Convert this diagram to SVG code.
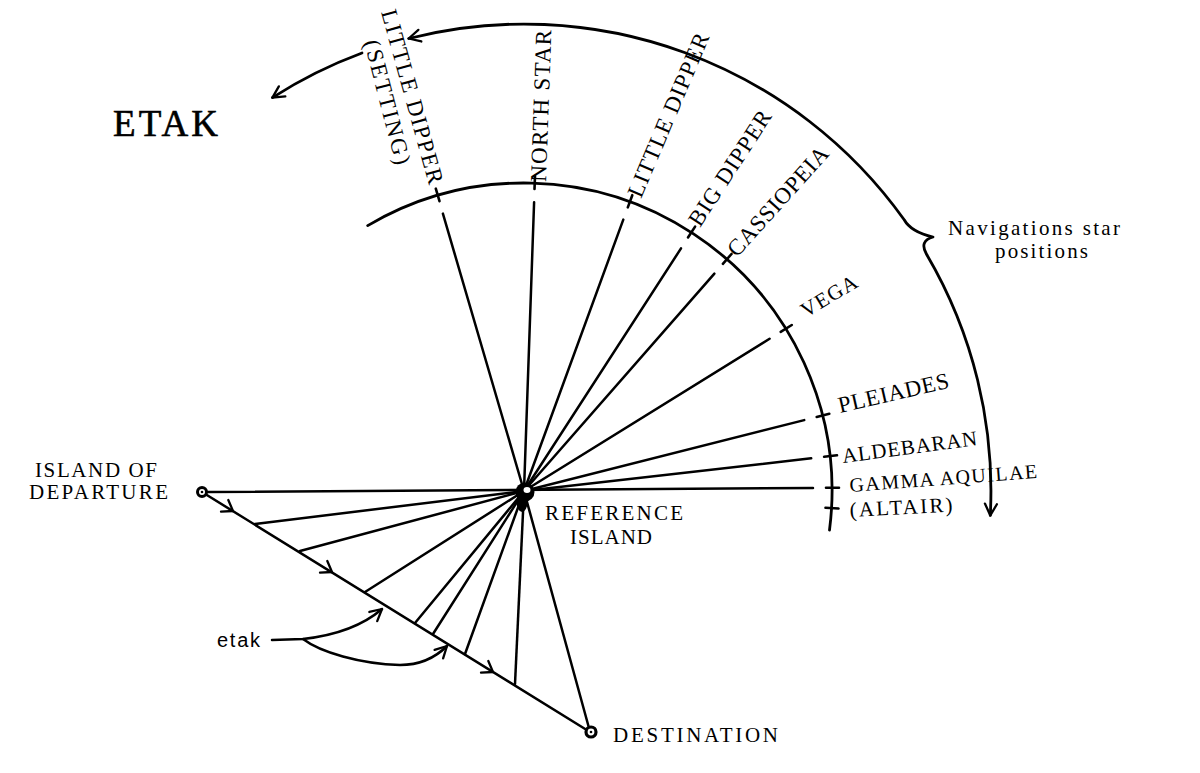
<svg xmlns="http://www.w3.org/2000/svg" width="1200" height="773" viewBox="0 0 1200 773">
<style>
.ln{stroke:#000;stroke-width:2.5;fill:none;stroke-linecap:round;stroke-linejoin:round}
.arc{stroke:#000;stroke-width:2.8;fill:none;stroke-linecap:round;stroke-linejoin:round}
.tk{stroke:#000;stroke-width:2.6;stroke-linecap:round}
.lb{font-family:"Liberation Serif","DejaVu Serif",serif;fill:#000;font-size:23px}
.sm{font-size:21px}
</style>
<defs>
<marker id="ah" viewBox="0 0 14 14" refX="13" refY="7" markerWidth="14" markerHeight="14" markerUnits="userSpaceOnUse" orient="auto-start-reverse" overflow="visible">
<path d="M1.5,1 L13,7 L1.5,13" fill="none" stroke="#000" stroke-width="2.3" stroke-linecap="round" stroke-linejoin="round"/>
</marker>
<path id="chev" d="M-4.7,-11 L0,0 L-12,0.7" fill="none" stroke="#000" stroke-width="2.3" stroke-linecap="round" stroke-linejoin="round"/>
</defs>
<rect width="1200" height="773" fill="#fff"/>

<g id="connectors">
<g class="ln">
<line x1="524" y1="491" x2="442.9" y2="213.6"/>
<line x1="524" y1="491" x2="534.1" y2="202.2"/>
<line x1="524" y1="491" x2="623.3" y2="219.6"/>
<line x1="524" y1="491" x2="681" y2="248.4"/>
<line x1="524" y1="491" x2="714.4" y2="273.6"/>
<line x1="524" y1="491" x2="769.6" y2="338.7"/>
<line x1="524" y1="491" x2="804.2" y2="420.1"/>
<line x1="524" y1="491" x2="811.2" y2="458.3"/>
<line x1="206" y1="492" x2="813" y2="488"/>
<line x1="524" y1="491" x2="255" y2="524"/>
<line x1="524" y1="491" x2="300" y2="551"/>
<line x1="524" y1="491" x2="365" y2="592"/>
<line x1="524" y1="491" x2="415" y2="623"/>
<line x1="524" y1="491" x2="433" y2="634"/>
<line x1="524" y1="491" x2="465" y2="654"/>
<line x1="524" y1="491" x2="515" y2="684"/>
<line x1="524" y1="491" x2="589" y2="728"/>
<line x1="202" y1="492" x2="590" y2="732"/>
</g>
<use href="#chev" x="233" y="511"/>
<use href="#chev" x="332" y="572"/>
<use href="#chev" x="493" y="672"/>
<path class="ln" d="M272,640 L303,639 C330,636 360,628 382,609" marker-end="url(#ah)"/>
<path class="ln" d="M303,639 C320,652 360,664 400,665 C420,665 435,658 447,646" marker-end="url(#ah)"/>
<path class="arc" d="M408.7,38.5 A467,467 0 0 1 904.2,219.8 Q911,232 933,237 Q919,241 926.4,254 A467,467 0 0 1 990.3,515.4" marker-start="url(#ah)" marker-end="url(#ah)"/>
<path class="arc" d="M362,53 A467,467 0 0 0 272.4,97.6" marker-end="url(#ah)"/>
</g>

<g id="star-circle">
<path class="arc" d="M367.7,225.6 A308,308 0 0 1 829.5,530.1"/>
<g class="tk">
<line x1="439.5" y1="201.2" x2="435.8" y2="188.7"/>
<line x1="534.5" y1="189" x2="535" y2="176"/>
<line x1="627.8" y1="207.4" x2="632.3" y2="195.2"/>
<line x1="688" y1="237.5" x2="695.1" y2="226.6"/>
<line x1="722.9" y1="263.8" x2="731.5" y2="254"/>
<line x1="780.7" y1="331.8" x2="791.8" y2="325"/>
<line x1="816.7" y1="416.9" x2="829.3" y2="413.7"/>
<line x1="824.1" y1="456.8" x2="837" y2="455.3"/>
<line x1="826" y1="487.8" x2="839" y2="487.7"/>
<line x1="825.5" y1="507.8" x2="838.5" y2="508.5"/>
</g>
</g>

<g id="reference-island">
<circle cx="525" cy="492" r="9.5" fill="#000"/>
<ellipse cx="522" cy="502" rx="5.5" ry="10" fill="#000"/>
<ellipse cx="527" cy="490" rx="3.5" ry="3" fill="#fff"/>
<text class="lb sm" x="545" y="520" textLength="138">REFERENCE</text>
<text class="lb sm" x="570" y="544" textLength="82">ISLAND</text>
</g>

<g id="island-of-departure">
<circle cx="202" cy="492" r="4.5" fill="#fff" stroke="#000" stroke-width="3"/>
<circle cx="202" cy="492" r="1.3" fill="#000"/>
<text class="lb sm" x="35" y="477" textLength="122">ISLAND OF</text>
<text class="lb sm" x="29" y="499" textLength="139">DEPARTURE</text>
</g>

<g id="destination">
<circle cx="591" cy="732" r="5" fill="#fff" stroke="#000" stroke-width="3.2"/>
<circle cx="591" cy="732" r="1.3" fill="#000"/>
<text class="lb sm" x="613" y="742" textLength="165">DESTINATION</text>
</g>

<g id="title">
<text x="113" y="136" font-family="'Liberation Serif','DejaVu Serif',serif" font-size="37" textLength="105" fill="#000" stroke="#000" stroke-width="0.6">ETAK</text>
</g>

<g id="etak-label">
<text x="217" y="647" font-family="'Liberation Sans','DejaVu Sans',sans-serif" font-size="20" textLength="43" fill="#000">etak</text>
</g>

<g id="nav-label">
<text class="lb sm" x="948" y="235" textLength="172">Navigations star</text>
<text class="lb sm" x="995" y="258" textLength="93">positions</text>
</g>

<g id="star-labels">
<text class="lb" transform="translate(381,12) rotate(74.5)" textLength="180">LITTLE DIPPER</text>
<text class="lb" transform="translate(364,42) rotate(75.5)" textLength="128">(SETTING)</text>
<text class="lb" transform="translate(546,182) rotate(-88)" textLength="152">NORTH STAR</text>
<text class="lb" transform="translate(641,199) rotate(-67)" textLength="176">LITTLE DIPPER</text>
<text class="lb" transform="translate(700,228) rotate(-57)" textLength="133">BIG DIPPER</text>
<text class="lb" transform="translate(737,258) rotate(-48)" textLength="139">CASSIOPEIA</text>
<text class="lb sm" transform="translate(806,318) rotate(-31)" textLength="62">VEGA</text>
<text class="lb" transform="translate(840,413) rotate(-13)" textLength="113">PLEIADES</text>
<text class="lb sm" transform="translate(843,463) rotate(-7.6)" textLength="136">ALDEBARAN</text>
<text class="lb" style="font-size:20px" transform="translate(850,492) rotate(-4.3)" textLength="188">GAMMA AQUILAE</text>
<text class="lb sm" transform="translate(850,517) rotate(-3)" textLength="103">(ALTAIR)</text>
</g>
</svg>
